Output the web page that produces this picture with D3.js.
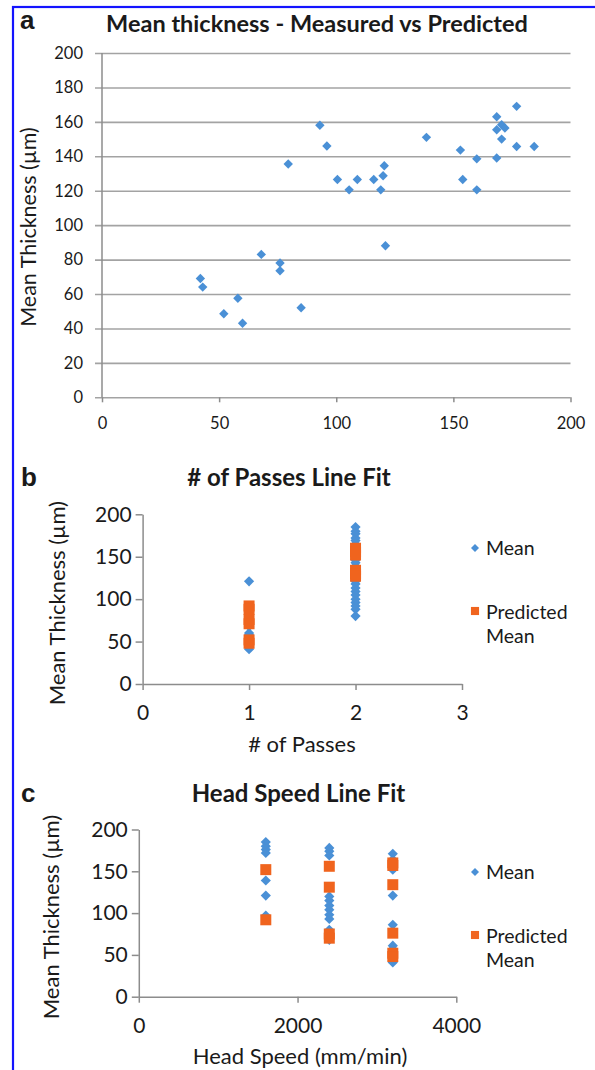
<!DOCTYPE html>
<html>
<head>
<meta charset="utf-8">
<script src="https://cdn.jsdelivr.net/npm/d3@7"></script>
<style>
  body { margin: 0; background: #fff; }
</style>
</head>
<body>
<svg id="fig" width="595" height="1070"></svg>
<script>
// ---- data ----
// a: measured vs predicted, [x, y]
const thicknessPairs = [
  [42, 69], [43, 64], [52, 48.5], [58, 57.5], [60, 43], [68, 83], [76, 78], [76, 73.5],
  [85, 52], [79.5, 135.5], [93, 158], [96, 146], [100.5, 126.5], [105.5, 120.5],
  [109, 126.5], [116, 126.5], [119, 120.5], [120, 128.7], [120.5, 134.5], [121, 88],
  [138.5, 151], [153, 143.6], [154, 126.5], [160, 138.5], [160, 120.5], [168.5, 139],
  [168.5, 163], [170.6, 158.3], [172, 156.4], [168.5, 155.4], [170.6, 150],
  [177, 169], [177, 145.7], [184.5, 145.7]
];
const xTicksA = [0, 50, 100, 150, 200];
const yTicksA = [0, 20, 40, 60, 80, 100, 120, 140, 160, 180, 200];

// b: # of passes line fit
const passMean = [
  [1, 121], [1, 85], [1, 76], [1, 73], [1, 68], [1, 60], [1, 58], [1, 52], [1, 43], [1, 41],
  [2, 185], [2, 180], [2, 177], [2, 172], [2, 169], [2, 165], [2, 160], [2, 156], [2, 151],
  [2, 146], [2, 143], [2, 139], [2, 135], [2, 127], [2, 121], [2, 118], [2, 113], [2, 109],
  [2, 105], [2, 100], [2, 96], [2, 92], [2, 88], [2, 80]
];
const passPred = [
  [1, 92], [1, 88], [1, 76], [1, 71], [1, 52], [1, 48],
  [2, 160], [2, 156], [2, 152], [2, 134], [2, 130], [2, 127]
];
const xTicksB = [0, 1, 2, 3];

// c: head speed line fit
const speedMean = [
  [1600, 185], [1600, 180], [1600, 176], [1600, 172], [1600, 139], [1600, 121], [1600, 97],
  [2400, 178], [2400, 174], [2400, 169], [2400, 120], [2400, 115], [2400, 109], [2400, 104],
  [2400, 98], [2400, 93], [2400, 80], [2400, 68],
  [3200, 171], [3200, 164], [3200, 152], [3200, 121], [3200, 86], [3200, 61], [3200, 57],
  [3200, 43], [3200, 41]
];
const speedPred = [
  [1600, 152], [1600, 92],
  [2400, 156], [2400, 131], [2400, 75], [2400, 70],
  [3200, 160], [3200, 157], [3200, 134], [3200, 76], [3200, 52], [3200, 48]
];
const xTicksC = [0, 2000, 4000];
const yTicksBC = [0, 50, 100, 150, 200];

const legendLabels = [["Mean"], ["Predicted", "Mean"]];

// ---- look ----
const blue = "#4a90d6", orange = "#f0641e", ink = "#1a1a1a", axisGrey = "#8c8c8c";
const font = "Lato, 'Open Sans', sans-serif";
const letterFont = "'Liberation Sans', Arial, sans-serif";

const svg = d3.select("#fig");

// blue frame round the figure
svg.append("rect")
  .attr("x", 13).attr("y", 7)
  .attr("width", 640).attr("height", 1120)
  .attr("fill", "none")
  .attr("stroke", "#1414ff")
  .attr("stroke-width", 2.2);

const diamond = s => d3.symbol().type(d3.symbolSquare).size(s)();
const square = s => d3.symbol().type(d3.symbolSquare).size(s)();

function label(g, txt, x, y, size, opts = {}) {
  return g.append("text")
    .attr("x", x).attr("y", y)
    .attr("text-anchor", opts.anchor || "middle")
    .attr("font-family", opts.family || font)
    .attr("font-weight", opts.weight || "normal")
    .attr("font-size", size)
    .attr("fill", ink)
    .text(txt);
}

function styleAxis(sel, size) {
  sel.selectAll("path, line").attr("stroke", axisGrey).attr("stroke-width", 1.5);
  sel.selectAll("text").attr("font-family", font).attr("font-size", size).attr("fill", ink);
}

// ================= panel a =================
const xA = d3.scaleLinear().domain([0, 200]).range([102, 570.5]);
const yA = d3.scaleLinear().domain([0, 200]).range([397.3, 53]);
const gA = svg.append("g");

// gridlines double as the y ticks (they start a little left of the axis)
const gridA = gA.append("g")
  .attr("transform", "translate(95,0)")
  .call(d3.axisLeft(yA).tickValues(yTicksA).tickSize(-(570.5 - 95)).tickPadding(12));
gridA.select(".domain").remove();
styleAxis(gridA, 16.5);
gridA.selectAll("line").attr("stroke", "#a3a3a3").attr("stroke-width", 1.6);

const xAxisA = gA.append("g")
  .attr("transform", `translate(0,${yA(0)})`)
  .call(d3.axisBottom(xA).tickValues(xTicksA).tickSize(5).tickPadding(15).tickSizeOuter(0));
xAxisA.select(".domain").remove();
styleAxis(xAxisA, 16.5);

gA.append("line")
  .attr("x1", xA(0)).attr("x2", xA(0))
  .attr("y1", yA(200)).attr("y2", yA(0))
  .attr("stroke", axisGrey).attr("stroke-width", 1.5);

gA.selectAll("path.pt")
  .data(thicknessPairs)
  .enter().append("path")
  .attr("class", "pt")
  .attr("d", diamond(44))
  .attr("transform", d => `translate(${xA(d[0])},${yA(d[1])}) rotate(45)`)
  .attr("fill", blue);

label(gA, "a", 20, 29, 26, { anchor: "start", family: letterFont, weight: "bold" });
label(gA, "Mean thickness - Measured vs Predicted", 317, 32, 23.5, { weight: "bold" });
label(gA, "Mean Thickness (µm)", 0, 0, 21.5)
  .attr("transform", "translate(36,227) rotate(-90)");

// ================= panels b and c =================
function fitPanel(o) {
  const x = d3.scaleLinear().domain(o.xDomain).range(o.xRange);
  const y = d3.scaleLinear().domain([0, 200]).range(o.yRange);
  const g = svg.append("g");

  const xa = g.append("g")
    .attr("transform", `translate(0,${o.yRange[0]})`)
    .call(d3.axisBottom(x).tickValues(o.xTicks).tickSize(6).tickPadding(15)
      .tickSizeOuter(0).tickFormat(d3.format("d")));
  styleAxis(xa, 21);

  const ya = g.append("g")
    .attr("transform", `translate(${o.xRange[0]},0)`)
    .call(d3.axisLeft(y).tickValues(yTicksBC).tickSize(7).tickPadding(4).tickSizeOuter(0));
  styleAxis(ya, 21);

  g.selectAll("path.mean")
    .data(o.mean)
    .enter().append("path")
    .attr("class", "mean")
    .attr("d", diamond(52))
    .attr("transform", d => `translate(${x(d[0])},${y(d[1])}) rotate(45)`)
    .attr("fill", blue);

  g.selectAll("path.pred")
    .data(o.pred)
    .enter().append("path")
    .attr("class", "pred")
    .attr("d", square(121))
    .attr("transform", d => `translate(${x(d[0])},${y(d[1])})`)
    .attr("fill", orange);

  label(g, o.letter, 21, o.titleY, 26, { anchor: "start", family: letterFont, weight: "bold" });
  label(g, o.title, o.titleX, o.titleY, 24, { weight: "bold" });
  label(g, o.xTitle, o.xTitleX, o.xTitleY, 22);
  label(g, "Mean Thickness (µm)", 0, 0, 22)
    .attr("transform", `translate(${o.yTitleX},${(o.yRange[0] + o.yRange[1]) / 2 + 4}) rotate(-90)`);

  // legend
  const lg = g.append("g").attr("transform", `translate(475,${o.legendY})`);
  lg.append("path").attr("d", diamond(32)).attr("transform", "rotate(45)").attr("fill", blue);
  lg.append("path").attr("d", square(66)).attr("transform", "translate(0,63)").attr("fill", orange);
  label(lg, legendLabels[0][0], 11, 6.5, 19.5, { anchor: "start" });
  label(lg, legendLabels[1][0], 11, 71, 19.5, { anchor: "start" });
  label(lg, legendLabels[1][1], 11, 95, 19.5, { anchor: "start" });
}

fitPanel({
  letter: "b", title: "# of Passes Line Fit", titleX: 289, titleY: 486,
  xTitle: "# of Passes", xTitleX: 302, xTitleY: 752, yTitleX: 65,
  xDomain: [0, 3], xRange: [142.6, 462], yRange: [684, 514.3],
  xTicks: xTicksB, mean: passMean, pred: passPred, legendY: 548
});

fitPanel({
  letter: "c", title: "Head Speed Line Fit", titleX: 298.5, titleY: 801.5,
  xTitle: "Head Speed (mm/min)", xTitleX: 300, xTitleY: 1064, yTitleX: 59,
  xDomain: [0, 4000], xRange: [138.8, 456.3], yRange: [996.7, 829.5],
  xTicks: xTicksC, mean: speedMean, pred: speedPred, legendY: 872
});
</script>
</body>
</html>
